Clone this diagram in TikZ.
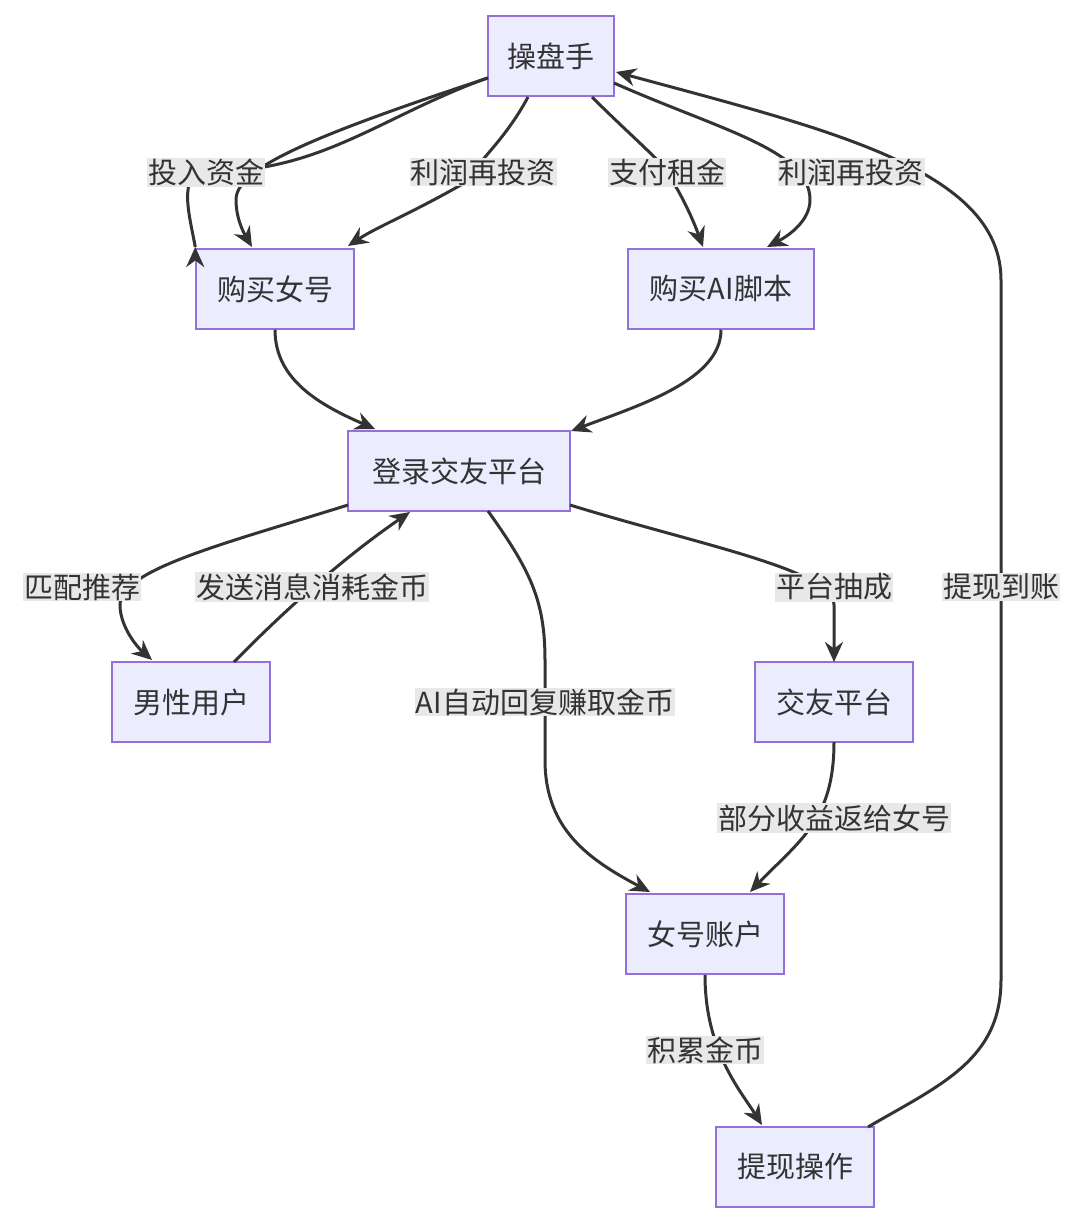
\documentclass[tikz,border=0pt]{standalone}
\usepackage{fontspec}
\setmainfont{Noto Sans CJK SC}
\usetikzlibrary{arrows.meta}
\definecolor{nfill}{HTML}{ECECFF}
\definecolor{nline}{HTML}{9370DB}
\definecolor{ecol}{HTML}{333333}
\definecolor{lfill}{HTML}{E8E8E8}
\begin{document}
\begin{tikzpicture}[x=1pt,y=-1pt,
  box/.style={draw=nline,fill=nfill,line width=1.5pt,minimum height=80pt,inner xsep=14pt,font=\fontsize{29}{34}\selectfont,text=ecol},
  lab/.style={fill=lfill,inner sep=1pt,font=\fontsize{29}{34}\selectfont,text=ecol},
  e/.style={draw=ecol,line width=3pt,-{Stealth[length=20pt,width=18pt]}},
  ln/.style={draw=ecol,line width=3pt}]
\useasboundingbox (0,0) rectangle (1084,1224);
\node[box,minimum width=126pt] (cps) at (551,56) {操盘手};
\node[box,minimum width=158pt] (gn) at (275,289) {购买女号};
\node[box,minimum width=186pt] (ai) at (721,289) {购买AI脚本};
\node[box,minimum width=222pt] (dl) at (459,471) {登录交友平台};
\node[box,minimum width=158pt] (nx) at (191,702) {男性用户};
\node[box,minimum width=158pt] (jy) at (834,702) {交友平台};
\node[box,minimum width=158pt] (nh) at (705,934) {女号账户};
\node[box,minimum width=158pt] (tx) at (795,1167) {提现操作};
\coordinate (l1) at (206,172);
\coordinate (l2) at (483,172);
\coordinate (l3) at (667,172);
\coordinate (l4) at (851,172);
\coordinate (l5) at (1001,587);
\coordinate (l6) at (82,587);
\coordinate (l7) at (312,587);
\coordinate (l8) at (545,702);
\coordinate (l9) at (834,587);
\coordinate (l10) at (834,818);
\coordinate (l11) at (705,1050);
\draw[e] (cps.west|-0,78) to[out=-160,in=0] ([xshift=0pt]l1) to[out=180,in=100] (gn.north west|-0,247) ++(0,0) ;
\draw[e] (488,78) .. controls (300,140) and (236,170) .. (236,200) .. controls (236,220) and (245,235) .. (252,247);
\draw[e] (528,97) .. controls (500,150) and (460,175) .. (l2) .. controls (420,210) and (380,225) .. (348,246);
\draw[e] (592,97) .. controls (630,135) and (660,160) .. (l3) .. controls (685,200) and (695,225) .. (703,247);
\draw[e] (614,83) .. controls (720,130) and (810,150) .. (810,200) .. controls (810,220) and (790,235) .. (767,247);
\draw[e] (868,1127) .. controls (940,1085) and (1001,1060) .. (1001,980) -- (1001,280) .. controls (1001,170) and (830,130) .. (616,72);
\draw[e] (gn.south) .. controls (275,380) and (320,405) .. (375,429);
\draw[e] (ai.south) .. controls (721,380) and (640,405) .. (571,431);
\draw[e] (348,505) .. controls (220,545) and (120,570) .. (120,605) .. controls (120,625) and (135,645) .. (152,660);
\draw[e] (234,662) .. controls (280,615) and (340,560) .. (410,512);
\draw[e] (488,511) .. controls (530,570) and (545,600) .. (545,660) -- (545,760) .. controls (545,830) and (590,860) .. (650,892);
\draw[e] (570,505) .. controls (700,545) and (834,570) .. (834,605) -- (834,662);
\draw[e] (834,742) .. controls (834,820) and (800,840) .. (750,892);
\draw[e] (705,975) .. controls (705,1050) and (740,1090) .. (762,1125);
\node[lab] at (l1) {投入资金};
\node[lab] at (l2) {利润再投资};
\node[lab] at (l3) {支付租金};
\node[lab] at (l4) {利润再投资};
\node[lab] at (l5) {提现到账};
\node[lab] at (l6) {匹配推荐};
\node[lab] at (l7) {发送消息消耗金币};
\node[lab] at (l8) {AI自动回复赚取金币};
\node[lab] at (l9) {平台抽成};
\node[lab] at (l10) {部分收益返给女号};
\node[lab] at (l11) {积累金币};
\end{tikzpicture}
\end{document}
